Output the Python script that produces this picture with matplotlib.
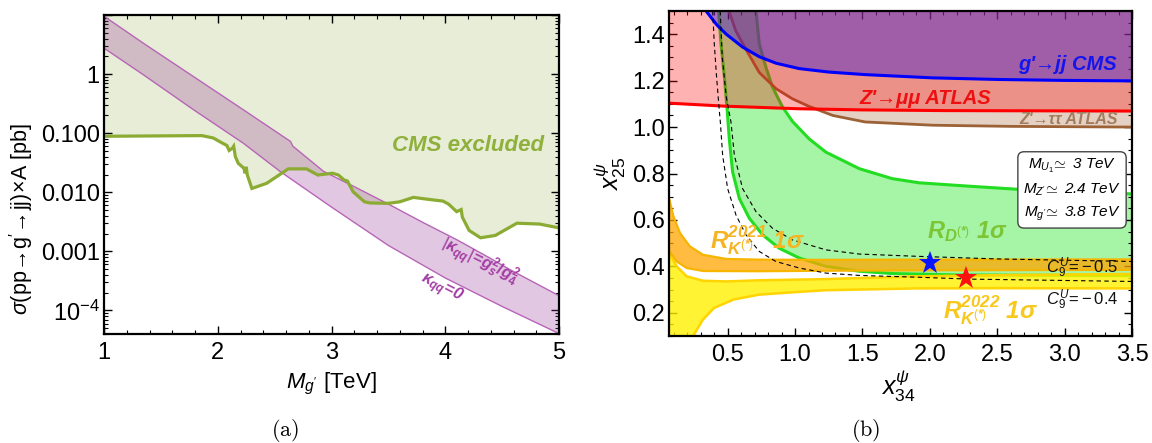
import numpy as np
import matplotlib
matplotlib.use('Agg')
import matplotlib.pyplot as plt
from matplotlib.ticker import MultipleLocator, FixedLocator, FixedFormatter, LogLocator, NullFormatter

plt.rcParams['font.family'] = ['Liberation Sans', 'DejaVu Sans']
plt.rcParams['mathtext.fontset'] = 'custom'
plt.rcParams['mathtext.rm'] = 'Liberation Sans'
plt.rcParams['mathtext.it'] = 'Liberation Sans:italic'
plt.rcParams['mathtext.bf'] = 'Liberation Sans:bold'
try:
    plt.rcParams['mathtext.bfit'] = 'Liberation Sans:bold:italic'
    HAS_BFIT = True
except KeyError:
    HAS_BFIT = False

# ---------------- panel (a) data ----------------
cms_mass = [1.0, 1.86, 1.96, 2.04, 2.08, 2.10, 2.13, 2.14, 2.155, 2.18, 2.23, 2.24, 2.25, 2.26,
            2.30, 2.43, 2.62, 2.78, 2.88, 3.01, 3.06, 3.11, 3.14, 3.19, 3.29, 3.34, 3.50, 3.60,
            3.72, 3.85, 3.98, 4.03, 4.10, 4.14, 4.15, 4.21, 4.31, 4.44, 4.63, 4.83, 5.0]
cms_xsec = [0.0887, 0.091, 0.083, 0.068, 0.062, 0.051, 0.056, 0.060, 0.040, 0.031, 0.0255, 0.021,
            0.027, 0.0196, 0.0116, 0.0142, 0.0249, 0.0249, 0.0196, 0.021, 0.0196, 0.0162, 0.0155,
            0.0102, 0.0069, 0.0066, 0.0065, 0.0069, 0.0082, 0.0076, 0.0071, 0.0063, 0.0047, 0.0051,
            0.0038, 0.00226, 0.0017, 0.00186, 0.0030, 0.0029, 0.0025]
kmax_mass = [1.0, 1.345, 1.785, 2.225, 2.64, 2.66, 2.93, 3.22, 3.51, 3.81, 4.10, 4.39, 4.57, 5.0]
kmax_xsec = [9.55, 3.34, 0.912, 0.249, 0.0724, 0.0603, 0.0226, 0.0119, 0.00617, 0.00304,
             0.00158, 7.76e-4, 4.9e-4, 1.78e-4]
k0_mass = [1.0, 1.345, 1.785, 2.225, 2.55, 3.0, 3.5, 4.0, 4.5, 5.0]
k0_xsec = [2.75, 0.977, 0.251, 0.0676, 0.0224, 0.00562, 0.00126, 3.55e-4, 1.17e-4, 4.07e-5]
ytick_vals = [1e-4, 1e-3, 1e-2, 0.1, 1]
ytick_labels = [r'$10^{-4}$', '0.001', '0.010', '0.100', '1']

# ---------------- panel (b) data ----------------
gjj_x = [0.34, 0.42, 0.49, 0.61, 0.735, 0.86, 1.03, 1.25, 1.52, 2.02, 2.51, 3.0, 3.5]
gjj_y = [1.50, 1.44, 1.40, 1.345, 1.303, 1.275, 1.252, 1.237, 1.226, 1.212, 1.205, 1.201, 1.199]
zmm_x = [0.065, 0.48, 1.02, 1.5, 2.1, 3.5]
zmm_y = [1.103, 1.09, 1.079, 1.074, 1.071, 1.069]
ztt_x = [0.51, 0.56, 0.64, 0.735, 0.86, 0.98, 1.1, 1.28, 1.52, 2.02, 2.6, 3.5]
ztt_y = [1.50, 1.415, 1.33, 1.235, 1.165, 1.122, 1.09, 1.05, 1.022, 1.008, 1.003, 1.0]
rd_lo_x = [0.433, 0.451, 0.476, 0.497, 0.512, 0.537, 0.587, 0.661, 0.759, 0.883, 1.031, 1.229,
           1.476, 1.72, 2.2, 3.5]
rd_lo_y = [1.50, 1.358, 1.215, 1.07, 0.95, 0.807, 0.692, 0.607, 0.536, 0.478, 0.436, 0.40,
           0.379, 0.369, 0.363, 0.36]
rd_hi_x = [0.71, 0.735, 0.784, 0.833, 0.907, 0.98, 1.105, 1.229, 1.476, 1.72, 1.92, 2.3, 2.76,
           3.18, 3.5]
rd_hi_y = [1.50, 1.358, 1.258, 1.172, 1.087, 1.025, 0.949, 0.892, 0.821, 0.778, 0.76, 0.745,
           0.728, 0.72, 0.712]
c9a_x = [0.389, 0.401, 0.418, 0.438, 0.446, 0.463, 0.50, 0.562, 0.636, 0.735, 0.858, 1.031,
         1.229, 1.476, 1.92, 2.3, 3.5]
c9a_y = [1.50, 1.358, 1.215, 1.072, 1.021, 0.878, 0.735, 0.621, 0.536, 0.464, 0.421, 0.393,
         0.371, 0.361, 0.353, 0.345, 0.335]
c9b_x = [0.445, 0.46, 0.49, 0.525, 0.55, 0.611, 0.71, 0.833, 0.98, 1.229, 1.476, 1.92, 2.5, 3.5]
c9b_y = [1.50, 1.30, 1.13, 1.021, 0.878, 0.735, 0.636, 0.564, 0.514, 0.471, 0.453, 0.443,
         0.432, 0.421]
rk21_hi_x = [0.065, 0.098, 0.147, 0.22, 0.317, 0.488, 0.732, 1.2, 2.0, 3.5]
rk21_hi_y = [0.694, 0.615, 0.543, 0.486, 0.45, 0.432, 0.429, 0.428, 0.429, 0.43]
rk21_lo_x = [0.065, 0.122, 0.196, 0.317, 0.732, 1.2, 2.0, 3.5]
rk21_lo_y = [0.468, 0.421, 0.393, 0.38, 0.379, 0.381, 0.383, 0.385]
rk22_hi_x = [0.065, 0.122, 0.196, 0.317, 0.488, 0.732, 1.22, 1.9, 2.6, 3.5]
rk22_hi_y = [0.457, 0.40, 0.357, 0.338, 0.335, 0.34, 0.345, 0.357, 0.363, 0.367]
rk22_lo_x = [0.244, 0.317, 0.40, 0.544, 0.732, 0.976, 1.22, 1.9, 2.5, 3.5]
rk22_lo_y = [0.10, 0.171, 0.221, 0.257, 0.278, 0.288, 0.297, 0.305, 0.306, 0.305]
star_x = [2.0, 2.27]
star_y = [0.415, 0.35]
star_colors = ['#0a14ff', '#ff1010']

XL, XR = 0.065, 3.5
YB, YT = 0.1, 1.5

fig = plt.figure(figsize=(11.52, 4.43), dpi=100)
W, H = 1152.0, 443.0
axL = fig.add_axes([104 / W, 1 - 334 / H, 455 / W, 319 / H])
axR = fig.add_axes([669 / W, 1 - 336 / H, 463 / W, 325 / H])

# ---------------- panel (a) ----------------
axL.set_yscale('log')
axL.set_xlim(1, 5)
axL.set_ylim(4e-5, 10)
axL.fill_between(cms_mass, cms_xsec, 10, color='#e7edd6', lw=0, zorder=1)
band_x = list(kmax_mass) + list(k0_mass[::-1])
band_y = list(kmax_xsec) + list(k0_xsec[::-1])
axL.fill(band_x, band_y, color=(0.58, 0.2, 0.58), alpha=0.27, lw=0, zorder=2)
axL.plot(kmax_mass, kmax_xsec, color='#b765b7', lw=1.0, zorder=3)
axL.plot(k0_mass, k0_xsec, color='#b765b7', lw=1.0, zorder=3)
axL.plot(cms_mass, cms_xsec, color='#8bab32', lw=2.3, zorder=4, solid_joinstyle='miter')

axL.text(4.2, 0.062, 'CMS excluded', color='#8fb03a', fontsize=16, fontweight='bold',
         fontstyle='italic', ha='center', va='center', zorder=6)
if HAS_BFIT:
    kmax_lab = (r'$|\mathbfit{\kappa}_{\mathbfit{qq}}|\!\mathbf{=}\!\mathbfit{g}_{\mathbfit{s}}^{\mathbf{2}}'
                r'\mathbf{/}\mathbfit{g}_{\mathbf{4}}^{\mathbf{2}}$')
    k0_lab = r'$\mathbfit{\kappa}_{\mathbfit{qq}}\!\mathbf{=}\!\mathbfit{0}$'
else:
    kmax_lab = r'$|\kappa_{qq}|\!=\!g_s^2/g_4^2$'
    k0_lab = r'$\kappa_{qq}\!=\!0$'
axL.text(4.3, 6.8e-4, kmax_lab, color='#a23ca2', fontsize=12,
         rotation=-26, ha='center', va='center', zorder=6)
axL.text(3.97, 2.4e-4, k0_lab, color='#a23ca2', fontsize=12,
         rotation=-27, ha='center', va='center', zorder=6)

axL.xaxis.set_major_locator(MultipleLocator(1))
axL.xaxis.set_minor_locator(MultipleLocator(0.2))
axL.yaxis.set_major_locator(FixedLocator(ytick_vals + [10]))
axL.yaxis.set_major_formatter(FixedFormatter(ytick_labels + ['']))
axL.yaxis.set_minor_locator(LogLocator(base=10, subs=np.arange(2, 10), numticks=20))
axL.yaxis.set_minor_formatter(NullFormatter())
axL.set_xlabel(r"$M_{g^{\prime}}$ [TeV]", fontsize=16)
axL.set_ylabel(r"$\sigma(\mathrm{pp}\!\rightarrow\!\mathrm{g}^{\prime}\!\rightarrow\!\mathrm{jj})"
               r"\!\times\!\mathrm{A}$ [pb]", fontsize=15.5)
axL.xaxis.set_label_coords(0.5, -0.115)
axL.yaxis.set_label_coords(-0.152, 0.36)

# ---------------- panel (b) ----------------
axR.set_xlim(XL, XR)
axR.set_ylim(YB, YT)

# R_D band (green)
gx = list(rd_lo_x) + list(rd_hi_x[::-1])
gy = list(rd_lo_y) + list(rd_hi_y[::-1])
axR.fill(gx, gy, color=(0.0, 0.88, 0.0), alpha=0.35, lw=0, zorder=1)
axR.plot(rd_lo_x, rd_lo_y, color='#22dd22', lw=2.2, zorder=1.5)
axR.plot(rd_hi_x, rd_hi_y, color='#22dd22', lw=2.2, zorder=1.5)

# Z' -> tau tau (brown)
axR.fill_between(ztt_x, ztt_y, YT, color=(0.65, 0.41, 0.235), alpha=0.3, lw=0, zorder=2)
axR.plot(ztt_x, ztt_y, color='#9c6236', lw=2.0, zorder=2.5)

# Z' -> mu mu (red)
axR.fill_between(zmm_x, zmm_y, YT, color=(1.0, 0.0, 0.0), alpha=0.3, lw=0, zorder=3)
axR.plot(zmm_x, zmm_y, color='#ff0000', lw=2.2, zorder=3.5)

# g' -> jj (blue)
axR.fill_between(gjj_x, gjj_y, YT, color=(0.27, 0.12, 0.82), alpha=0.45, lw=0, zorder=4)
axR.plot(gjj_x, gjj_y, color='#0000ff', lw=2.2, zorder=4.5)

# R_K 2022 (yellow)
yx = list(rk22_hi_x) + list(rk22_lo_x[::-1]) + [XL]
yy = list(rk22_hi_y) + list(rk22_lo_y[::-1]) + [YB]
axR.fill(yx, yy, color=(1.0, 0.94, 0.0), alpha=0.8, lw=0, zorder=5)
axR.plot(rk22_hi_x, rk22_hi_y, color='#ffd400', lw=1.8, zorder=5.5)
axR.plot(rk22_lo_x, rk22_lo_y, color='#ffd400', lw=1.8, zorder=5.5)

# R_K 2021 (orange)
ox = list(rk21_hi_x) + list(rk21_lo_x[::-1])
oy = list(rk21_hi_y) + list(rk21_lo_y[::-1])
axR.fill(ox, oy, color=(1.0, 0.65, 0.0), alpha=0.75, lw=0, zorder=6)
axR.plot(rk21_hi_x, rk21_hi_y, color='#f7b500', lw=1.6, zorder=6.5)
axR.plot(rk21_lo_x, rk21_lo_y, color='#f7b500', lw=1.6, zorder=6.5)

# C9 dashed contours
axR.plot(c9a_x, c9a_y, color='black', lw=0.8, ls=(0, (4, 3)), zorder=7)
axR.plot(c9b_x, c9b_y, color='black', lw=0.8, ls=(0, (4, 3)), zorder=7)

for sx, sy, sc in zip(star_x, star_y, star_colors):
    axR.plot(sx, sy, marker='*', color=sc, ms=17, mew=0, zorder=9)

bi = dict(fontweight='bold', fontstyle='italic', ha='center', va='center', zorder=10)
axR.text(3.02, 1.27, "g'→jj CMS", color='#1414ee', fontsize=14.5, **bi)
axR.text(1.97, 1.125, "Z'→μμ ATLAS", color='#ee1010', fontsize=14.5, **bi)
axR.text(3.03, 1.033, "Z'→ττ ATLAS", color='#a27c5c', fontsize=11.5, **bi)
if HAS_BFIT:
    rd_lab = r'$\mathbfit{R}_{\mathbfit{D}^{(\mathbfit{*})}}$ 1$\mathbfit{\sigma}$'
    rk21_lab = r'$\mathbfit{R}_{\mathbfit{K}^{(\mathbfit{*})}}^{\mathbfit{2021}}$ 1$\mathbfit{\sigma}$'
    rk22_lab = r'$\mathbfit{R}_{\mathbfit{K}^{(\mathbfit{*})}}^{\mathbfit{2022}}$ 1$\mathbfit{\sigma}$'
else:
    rd_lab = r'$R_{D^{(*)}}$ 1σ'
    rk21_lab = r'$R_{K^{(*)}}^{2021}$ 1σ'
    rk22_lab = r'$R_{K^{(*)}}^{2022}$ 1σ'
axR.text(2.28, 0.55, rd_lab, color='#7cc636', fontsize=17, **bi)
axR.text(0.72, 0.515, rk21_lab, color='#f6b422', fontsize=17.5, **bi)
axR.text(2.45, 0.21, rk22_lab, color='#f8c81c', fontsize=17.5, **bi)
axR.text(3.13, 0.393, r'$C_9^U\!=\!-0.5$', color='#111111', fontsize=12, ha='center',
         va='center', zorder=10)
axR.text(3.13, 0.257, r'$C_9^U\!=\!-0.4$', color='#111111', fontsize=12, ha='center',
         va='center', zorder=10)
axR.text(3.055, 0.73,
         "$M_{U_1}\\!\\simeq$ 3 TeV\n$M_{Z^{\\prime}}\\!\\simeq$ 2.4 TeV\n$M_{g^{\\prime}}\\!\\simeq$ 3.8 TeV",
         fontsize=11, fontstyle='italic', ha='center', va='center', linespacing=1.55,
         zorder=11,
         bbox=dict(boxstyle='round,pad=0.35,rounding_size=0.4', fc='white', ec='#444444', lw=1.0))

axR.xaxis.set_minor_locator(MultipleLocator(0.1))
axR.yaxis.set_minor_locator(MultipleLocator(0.05))
axR.set_xticks([0.5, 1.0, 1.5, 2.0, 2.5, 3.0, 3.5])
axR.set_yticks([0.2, 0.4, 0.6, 0.8, 1.0, 1.2, 1.4])
axR.set_xlabel(r'$x_{34}^{\psi}$', fontsize=18)
axR.set_ylabel(r'$x_{25}^{\psi}$', fontsize=18)
axR.xaxis.set_label_coords(0.495, -0.1)
axR.yaxis.set_label_coords(-0.088, 0.5)

for ax in (axL, axR):
    ax.tick_params(which='both', direction='in', top=True, right=True, labelsize=17,
                   colors='black')
    ax.tick_params(which='major', length=6, width=1.0)
    ax.tick_params(which='minor', length=3, width=0.8)
    ax.tick_params(axis='x', which='major', pad=6)
    ax.tick_params(axis='y', which='major', pad=3)
    for sp in ax.spines.values():
        sp.set_linewidth(1.6)
        sp.set_zorder(20)

fig.text(285 / W, 1 - 431 / H, r'$\mathrm{(a)}$', fontsize=16, ha='center', va='center',
         math_fontfamily='cm')
fig.text(866 / W, 1 - 431 / H, r'$\mathrm{(b)}$', fontsize=16, ha='center', va='center',
         math_fontfamily='cm')

fig.savefig('out.png', dpi=100)
